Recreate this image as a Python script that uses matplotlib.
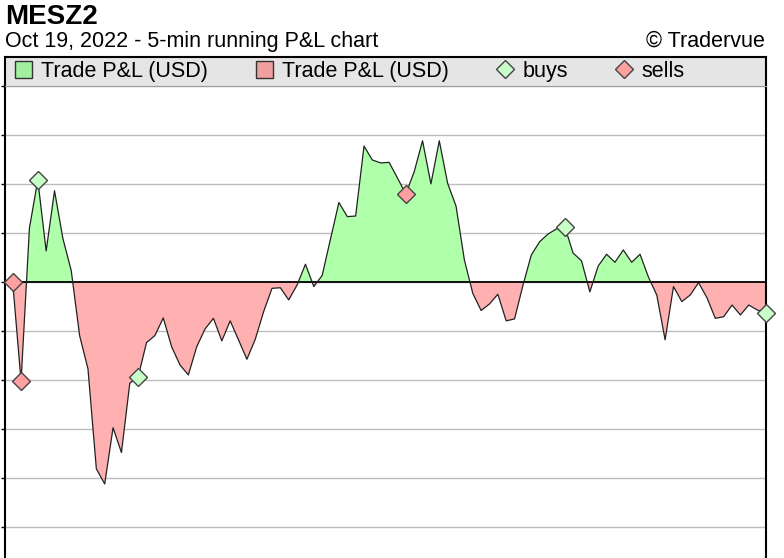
import numpy as np
import matplotlib.pyplot as plt
from matplotlib.lines import Line2D
from matplotlib.patches import Patch

plt.rcParams['font.family'] = ['Liberation Sans', 'DejaVu Sans']

# running P&L, one value per 5-min bar (USD)
pnl = [0, -50.5, 27.6, 52.2, 16.0, 46.7, 22.4, 5.9, -27.2, -44.2,
       -95.2, -102.9, -74.2, -86.9, -51.5, -48.2, -30.8, -27.2, -18.2, -32.9,
       -42.2, -47.3, -32.9, -23.8, -18.4, -29.9, -19.7, -29.4, -39.3, -29.1,
       -15.0, -3.1, -2.8, -9.0, -1.4, 9.2, -2.2, 3.5, 22.2, 40.7,
       33.5, 33.8, 69.5, 62.4, 60.9, 61.2, 53.2, 45.1, 56.4, 72.2,
       50.2, 72.2, 50.5, 38.9, 11.4, -5.6, -14.4, -11.1, -6.1, -19.7,
       -18.7, -1.6, 13.9, 20.7, 24.6, 27.2, 28.4, 14.9, 11.0, -4.9,
       8.3, 14.3, 10.2, 16.5, 10.2, 14.3, 2.7, -6.5, -29.4, -2.2,
       -9.9, -6.5, -0.2, -7.9, -18.4, -17.6, -11.6, -16.7, -11.6, -14.1,
       -15.8]
buy_idx = [3, 15, 66, 90]
sell_idx = [0, 1, 47]

green = '#b0ffaa'
red = '#ffb0b0'

fig = plt.figure(figsize=(7.84, 5.58), dpi=100)

x = np.arange(len(pnl))
y = np.array(pnl)

ax = fig.add_axes([5 / 784, 0, 760.5 / 784, 1 - 86.3 / 558])
ax.fill_between(x, y, 0, where=y >= 0, interpolate=True, color=green, lw=0)
ax.fill_between(x, y, 0, where=y <= 0, interpolate=True, color=red, lw=0)
ax.plot(x, y, color='#222222', lw=0.9, zorder=3)
ax.axhline(0, color='black', lw=1.3, zorder=2)
ax.plot(x[buy_idx], y[buy_idx], 'D', ms=8.8, mfc='#c8ffc8', mec='#444444', mew=1, zorder=4, clip_on=False)
ax.plot(x[sell_idx], y[sell_idx], 'D', ms=8.8, mfc='#ffa0a0', mec='#444444', mew=1, zorder=4, clip_on=False)

ax.set_xlim(-0.92, 90)
ax.set_ylim(-140.7, 100)
ax.set_yticks(np.arange(-125, 101, 25))
ax.set_yticklabels([])
ax.set_xticks([])
ax.tick_params(axis='y', direction='out', length=3, width=1)
ax.grid(axis='y', color='#bdbdbd', lw=1)
ax.set_axisbelow(True)
ax.spines['bottom'].set_visible(False)
ax.spines['top'].set_visible(False)
for s in ['left', 'right']:
    ax.spines[s].set_linewidth(1.5)

# legend strip
lax = fig.add_axes([5 / 784, 1 - 86.3 / 558, 760.5 / 784, 29.3 / 558])
lax.set_facecolor('#e5e5e5')
lax.set_xticks([])
lax.set_yticks([])
for s in ['left', 'right', 'top']:
    lax.spines[s].set_linewidth(1.5)
lax.spines['bottom'].set_color('#9a9a9a')
handles = [Patch(facecolor='#a0f0a0', edgecolor='#333333', lw=1),
           Patch(facecolor='#f0a0a0', edgecolor='#333333', lw=1),
           Line2D([], [], ls='none', marker='D', ms=9, mfc='#c8ffc8', mec='#444444'),
           Line2D([], [], ls='none', marker='D', ms=9, mfc='#ffa0a0', mec='#444444')]
labels = ['Trade P&L (USD)', 'Trade P&L (USD)', 'buys', 'sells']
lax.legend(handles, labels, ncol=4, loc='center left', bbox_to_anchor=(0.002, 0.5),
           frameon=False, fontsize=15.5, handlelength=0.8, handleheight=0.8,
           handletextpad=0.42, columnspacing=2.2, borderaxespad=0.0)

fig.text(5 / 784, 1 - 24 / 558, 'MESZ2', fontsize=20, fontweight='bold', ha='left', va='baseline')
fig.text(5 / 784, 1 - 47 / 558, 'Oct 19, 2022 - 5-min running P&L chart', fontsize=15.5, ha='left', va='baseline')
fig.text(765 / 784, 1 - 47 / 558, '\u00a9 Tradervue', fontsize=15.5, ha='right', va='baseline')

fig.savefig('out.png', dpi=100)
